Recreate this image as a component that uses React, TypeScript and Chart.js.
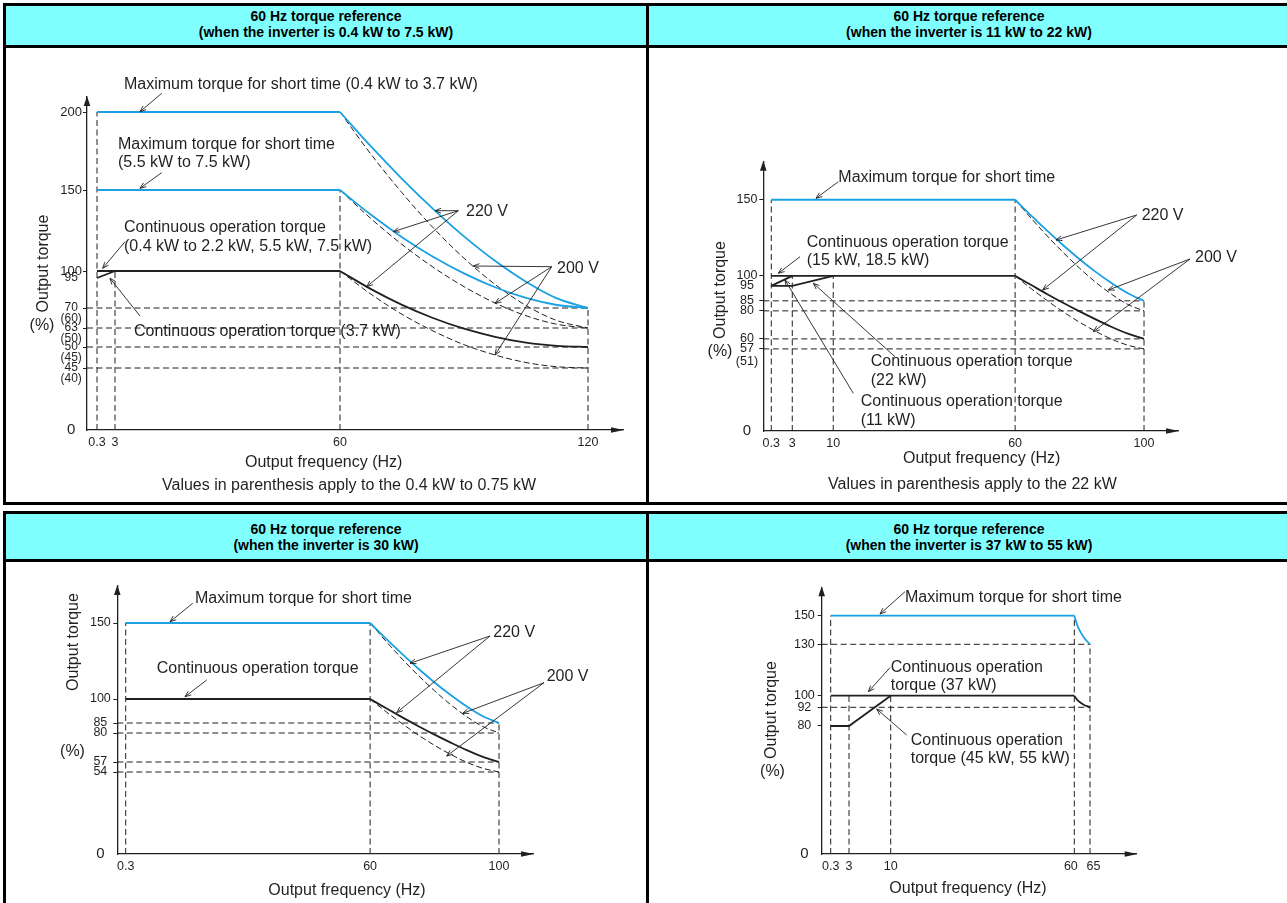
import React, { useEffect, useRef } from 'react';
import { Chart, LineController, LineElement, PointElement, LinearScale } from 'chart.js';

Chart.register(LineController, LineElement, PointElement, LinearScale);

const FONT = '"Liberation Sans", Arial, Helvetica, sans-serif';
const INK = '#231F20';
const BLUE = '#1AA1E3';
const HEADER_BG = '#80FFFF';

// ================= DATA =================
// ---- Panel 1: 0.4 kW to 7.5 kW ----
const p1XTicks = [0.3, 3, 60, 120];
const p1XTickLabels = ['0.3', '3', '60', '120'];
const p1YTicks = [0, 45, 50, 63, 70, 95, 100, 150, 200];
const p1YTickLabels = ['0', '45\n(40)', '50\n(45)', '63\n(50)', '70\n(60)', '95', '100', '150', '200'];
const p1FlatFreq = [0.3, 60];
const p1MaxShort37Flat = [200, 200];
const p1MaxShort75Flat = [150, 150];
const p1ContFlat = [100, 100];
const p1Cont37Freq = [0.3, 3];
const p1Cont37 = [95, 100];
const p1CurveFreq = [60, 67.5, 75, 82.5, 90, 97.5, 105, 112.5, 120];
const p1MaxShort37_220 = [200, 177.9, 157.2, 138.4, 121.4, 106.3, 91.9, 78, 70];
const p1MaxShort75_220 = [150, 134.7, 120.9, 108.8, 98.3, 87.3, 78.4, 72.5, 70];
const p1Cont_220 = [100, 85.7, 72.6, 66.5, 62.5, 57, 53, 50.8, 50];
const p1MaxShort37_200 = [200, 172.9, 148.3, 126.8, 107.9, 89.7, 72.1, 65.6, 63];
const p1MaxShort75_200 = [150, 132.3, 116.4, 102.4, 87.8, 74.2, 67.3, 64.3, 63];
const p1Cont_200 = [100, 81.5, 67.8, 61, 51.6, 48.1, 46.3, 45.3, 45];
const p1VGuideFreq = [0.3, 3, 60, 120];
const p1VGuideTop = [200, 100, 150, 70];
const p1HGuideTorque = [70, 63, 50, 45];
const p1HGuideEnd = 120;

// ---- Panel 2: 11 kW to 22 kW ----
const p2XTicks = [0.3, 3, 10, 60, 100];
const p2XTickLabels = ['0.3', '3', '10', '60', '100'];
const p2YTicks = [0, 57, 60, 80, 85, 95, 100, 150];
const p2YTickLabels = ['0', '57\n(51)', '60', '80', '85', '95', '100', '150'];
const p2FlatFreq = [0.3, 60];
const p2MaxShortFlat = [150, 150];
const p2ContFlat = [100, 100];
const p2Cont11Freq = [0.3, 3];
const p2Cont11 = [95, 100];
const p2Cont22Freq = [0.3, 3, 10];
const p2Cont22 = [95, 95, 100];
const p2CurveFreq = [60, 65, 70, 75, 80, 85, 90, 95, 100];
const p2MaxShort_220 = [150, 139.5, 129.5, 119.9, 110.9, 102.6, 96.3, 90.1, 85];
const p2MaxShort_200 = [150, 137.8, 126.1, 115.2, 105, 96.8, 89.3, 83.2, 80];
const p2Cont_220 = [100, 95.4, 89.4, 83.9, 79.6, 73.9, 68.5, 63.7, 60];
const p2Cont_200 = [100, 93.1, 85.1, 79.2, 71.9, 65.4, 59.9, 58.1, 57];
const p2VGuideFreq = [0.3, 3, 10, 60, 100];
const p2VGuideTop = [150, 100, 100, 150, 85];
const p2HGuideTorque = [85, 80, 60, 57];
const p2HGuideEnd = 100;

// ---- Panel 3: 30 kW ----
const p3XTicks = [0.3, 60, 100];
const p3XTickLabels = ['0.3', '60', '100'];
const p3YTicks = [0, 54, 57, 80, 85, 100, 150];
const p3YTickLabels = ['0', '54', '57', '80', '85', '100', '150'];
const p3FlatFreq = [0.3, 60];
const p3MaxShortFlat = [150, 150];
const p3ContFlat = [100, 100];
const p3CurveFreq = [60, 65, 70, 75, 80, 85, 90, 95, 100];
const p3MaxShort_220 = [150, 139.5, 129.5, 119.9, 110.9, 102.6, 95.3, 89.2, 85];
const p3MaxShort_200 = [150, 137.8, 126.2, 115.4, 105.4, 96.5, 88.9, 83.2, 80];
const p3Cont_220 = [100, 94.2, 88.5, 83.4, 78.7, 72.4, 66.4, 61.1, 57];
const p3Cont_200 = [100, 92, 84.6, 78.3, 70.2, 63, 56.9, 55.1, 54];
const p3VGuideFreq = [0.3, 60, 100];
const p3VGuideTop = [150, 150, 85];
const p3HGuideTorque = [85, 80, 57, 54];
const p3HGuideEnd = 100;

// ---- Panel 4: 37 kW to 55 kW ----
const p4XTicks = [0.3, 3, 10, 60, 65];
const p4XTickLabels = ['0.3', '3', '10', '60  ', '  65'];
const p4YTicks = [0, 80, 92, 100, 130, 150];
const p4YTickLabels = ['0', '80', '92', '100', '130', '150'];
const p4FlatFreq = [0.3, 60];
const p4MaxShortFlat = [150, 150];
const p4Cont37Flat = [100, 100];
const p4CurveFreq = [60, 61, 62, 63, 64, 65];
const p4MaxShort = [150, 143, 138.5, 135, 132.3, 130];
const p4Cont37 = [100, 97, 95.2, 93.8, 92.8, 92];
const p4Cont45Freq = [0.3, 3, 10];
const p4Cont45 = [80, 80, 100];
const p4VGuideFreq = [0.3, 3, 10, 60, 65];
const p4VGuideTop = [150, 100, 100, 150, 130];
const p4HGuideTorque = [130, 92];
const p4HGuideEnd = 65;

// ================= SCALE =================
type Pt = [number, number];

function interp(b: Pt[], v: number, from: number): number {
  const to = 1 - from;
  const n = b.length;
  let i = 0;
  while (i < n - 2 && v > b[i + 1][from]) i++;
  const a = b[i];
  const c = b[i + 1];
  const t = (v - a[from]) / (c[from] - a[from]);
  return a[to] + t * (c[to] - a[to]);
}

class PiecewiseScale extends LinearScale {
  static id = 'piecewise';
  static defaults = {};
  getPixelForValue(value: number) {
    const b: Pt[] = (this.options as any).breaks;
    const uMax = b[b.length - 1][1];
    const f = interp(b, value, 0) / uMax;
    return this.isHorizontal() ? this.left + f * this.width : this.bottom - f * this.height;
  }
  getValueForPixel(pixel: number) {
    const b: Pt[] = (this.options as any).breaks;
    const uMax = b[b.length - 1][1];
    const f = this.isHorizontal() ? (pixel - this.left) / this.width : (this.bottom - pixel) / this.height;
    return interp(b, f * uMax, 1);
  }
}
Chart.register(PiecewiseScale as any);

// ================= HELPERS =================
const xy = (xs: number[], ys: number[]) => xs.map((x, i) => ({ x, y: ys[i] }));
const solid = (xs: number[], ys: number[], color: string, curve = false) => ({
  data: xy(xs, ys), borderColor: color, borderWidth: 1.8, pointRadius: 0, clip: false,
  cubicInterpolationMode: curve ? 'monotone' : 'default', tension: 0, order: 0,
});
const dashedCurve = (xs: number[], ys: number[]) => ({
  data: xy(xs, ys), borderColor: INK, borderWidth: 1, borderDash: [6, 3], pointRadius: 0, clip: false,
  cubicInterpolationMode: 'monotone', order: 1,
});
const guide = (xs: number[], ys: number[]) => ({
  data: xy(xs, ys), borderColor: INK, borderWidth: 1, borderDash: [6, 3.5], pointRadius: 0, clip: false,
  tension: 0, order: 2,
});
const vGuides = (xs: number[], tops: number[]) => xs.map((x, i) => guide([x, x], [0, tops[i]]));
const hGuides = (ys: number[], end: number) => ys.map((y) => guide([0, end], [y, y]));

type Note = { t: string; at: Pt; rot?: boolean; center?: boolean };
type Arrow = { from: Pt; to: Pt[] };
interface PanelSpec {
  frame: { left: number; top: number; width: number; height: number; origin: Pt; xEnd: number; yTop: number };
  xBreaks: Pt[];
  yBreaks: Pt[];
  xTicks: number[];
  xLabels: string[];
  yTicks: number[];
  yLabels: string[];
  yFont: (v: number) => number;
  yLine: number;
  yPad: number;
  datasets: any[];
  notes: Note[];
  arrows: Arrow[];
}

// ================= PANELS =================
const panel1: PanelSpec = {
  frame: { left: 6, top: 48, width: 640, height: 454, origin: [87, 430], xEnd: 623, yTop: 97 },
  xBreaks: [[0, 0], [0.3, 10], [3, 28], [60, 253], [120, 501], [128.5, 536]],
  yBreaks: [[0, 0], [45, 62], [50, 83], [63, 102], [70, 122], [95, 152], [100, 159], [150, 240], [200, 318], [210, 333]],
  xTicks: p1XTicks,
  xLabels: p1XTickLabels,
  yTicks: p1YTicks,
  yLabels: p1YTickLabels,
  yFont: (v) => (v === 0 ? 15 : v >= 100 ? 13 : 12),
  yLine: 0.9,
  yPad: 1,
  datasets: [
    solid(p1FlatFreq, p1MaxShort37Flat, BLUE),
    solid(p1CurveFreq, p1MaxShort37_220, BLUE, true),
    solid(p1FlatFreq, p1MaxShort75Flat, BLUE),
    solid(p1CurveFreq, p1MaxShort75_220, BLUE, true),
    solid(p1FlatFreq, p1ContFlat, INK),
    solid(p1Cont37Freq, p1Cont37, INK),
    solid(p1CurveFreq, p1Cont_220, INK, true),
    dashedCurve(p1CurveFreq, p1MaxShort37_200),
    dashedCurve(p1CurveFreq, p1MaxShort75_200),
    dashedCurve(p1CurveFreq, p1Cont_200),
    ...vGuides(p1VGuideFreq, p1VGuideTop),
    ...hGuides(p1HGuideTorque, p1HGuideEnd),
  ],
  notes: [
    { t: 'Maximum torque for short time (0.4 kW to 3.7 kW)', at: [37, -341] },
    { t: 'Maximum torque for short time', at: [31, -281] },
    { t: '(5.5 kW to 7.5 kW)', at: [31, -263] },
    { t: 'Continuous operation torque', at: [37, -198] },
    { t: '(0.4 kW to 2.2 kW, 5.5 kW, 7.5 kW)', at: [37, -179] },
    { t: 'Continuous operation torque (3.7 kW)', at: [47, -94] },
    { t: '220 V', at: [379, -214] },
    { t: '200 V', at: [470, -157] },
    { t: 'Output frequency (Hz)', at: [158, 37] },
    { t: 'Values in parenthesis apply to the 0.4 kW to 0.75 kW', at: [75, 60] },
    { t: 'Output torque', at: [-43, -166.5], rot: true },
    { t: '(%)', at: [-45, -104.5], center: true },
  ],
  arrows: [
    { from: [74.7, -336.7], to: [[53, -318.3]] },
    { from: [74.7, -257.3], to: [[53, -241.7]] },
    { from: [38, -188.3], to: [[15.7, -161.7]] },
    { from: [53, -114], to: [[23, -151.7]] },
    { from: [371.3, -219.3], to: [[348, -219.3], [306.3, -198.3], [279.7, -143.3]] },
    { from: [464.7, -163.3], to: [[386.3, -164], [408, -126.7], [408, -75]] },
  ],
};

const panel2: PanelSpec = {
  frame: { left: 649, top: 48, width: 638, height: 454, origin: [763.3, 431], xEnd: 1178, yTop: 161.7 },
  xBreaks: [[0, 0], [0.3, 8], [3, 29], [10, 70], [60, 252], [100, 381], [110.5, 415]],
  yBreaks: [[0, 0], [57, 82], [60, 92], [80, 120], [85, 130], [95, 145], [100, 155], [150, 231], [175, 269]],
  xTicks: p2XTicks,
  xLabels: p2XTickLabels,
  yTicks: p2YTicks,
  yLabels: p2YTickLabels,
  yFont: (v) => (v === 0 ? 15 : 12.5),
  yLine: 1,
  yPad: 1.2,
  datasets: [
    solid(p2FlatFreq, p2MaxShortFlat, BLUE),
    solid(p2CurveFreq, p2MaxShort_220, BLUE, true),
    solid(p2FlatFreq, p2ContFlat, INK),
    solid(p2Cont11Freq, p2Cont11, INK),
    solid(p2Cont22Freq, p2Cont22, INK),
    solid(p2CurveFreq, p2Cont_220, INK, true),
    dashedCurve(p2CurveFreq, p2MaxShort_200),
    dashedCurve(p2CurveFreq, p2Cont_200),
    ...vGuides(p2VGuideFreq, p2VGuideTop),
    ...hGuides(p2HGuideTorque, p2HGuideEnd),
  ],
  notes: [
    { t: 'Maximum torque for short time', at: [75, -249.3] },
    { t: 'Continuous operation torque', at: [43.4, -184] },
    { t: '(15 kW, 18.5 kW)', at: [43.4, -166] },
    { t: 'Continuous operation torque', at: [107.4, -65] },
    { t: '(22 kW)', at: [107.4, -46] },
    { t: 'Continuous operation torque', at: [97.4, -25] },
    { t: '(11 kW)', at: [97.4, -6] },
    { t: '220 V', at: [378.4, -211] },
    { t: '200 V', at: [431.7, -169] },
    { t: 'Output frequency (Hz)', at: [139.7, 32] },
    { t: 'Values in parenthesis apply to the 22 kW', at: [64.7, 58] },
    { t: 'Output torque', at: [-42.8, -141], rot: true },
    { t: '(%)', at: [-43.3, -79.5], center: true },
  ],
  arrows: [
    { from: [75, -249.3], to: [[52.7, -232.7]] },
    { from: [36.7, -174.3], to: [[15, -157.7]] },
    { from: [131.7, -74.3], to: [[50, -147.7]] },
    { from: [90, -37.7], to: [[21.7, -151]] },
    { from: [373.4, -216], to: [[292.7, -191], [279.4, -141]] },
    { from: [426.7, -172], to: [[345, -141], [330, -99.3]] },
  ],
};

const panel3: PanelSpec = {
  frame: { left: 6, top: 562, width: 640, height: 341, origin: [117.3, 854], xEnd: 533, yTop: 586 },
  xBreaks: [[0, 0], [0.3, 8.4], [60, 253], [100, 382], [110.5, 416]],
  yBreaks: [[0, 0], [54, 82], [57, 92], [80, 121], [85, 131], [100, 155], [150, 231], [175, 268]],
  xTicks: p3XTicks,
  xLabels: p3XTickLabels,
  yTicks: p3YTicks,
  yLabels: p3YTickLabels,
  yFont: (v) => (v === 0 ? 15 : 12.5),
  yLine: 1,
  yPad: 2.5,
  datasets: [
    solid(p3FlatFreq, p3MaxShortFlat, BLUE),
    solid(p3CurveFreq, p3MaxShort_220, BLUE, true),
    solid(p3FlatFreq, p3ContFlat, INK),
    solid(p3CurveFreq, p3Cont_220, INK, true),
    dashedCurve(p3CurveFreq, p3MaxShort_200),
    dashedCurve(p3CurveFreq, p3Cont_200),
    ...vGuides(p3VGuideFreq, p3VGuideTop),
    ...hGuides(p3HGuideTorque, p3HGuideEnd),
  ],
  notes: [
    { t: 'Maximum torque for short time', at: [77.7, -251.3] },
    { t: 'Continuous operation torque', at: [39.4, -181.3] },
    { t: '220 V', at: [376, -216.7] },
    { t: '200 V', at: [429.4, -173.3] },
    { t: 'Output frequency (Hz)', at: [151, 41] },
    { t: 'Output torque', at: [-43.8, -212], rot: true },
    { t: '(%)', at: [-44.8, -102.5], center: true },
  ],
  arrows: [
    { from: [75.4, -250.7], to: [[52.7, -232.3]] },
    { from: [89.4, -174], to: [[67.7, -157.3]] },
    { from: [372.7, -218], to: [[292.7, -190.7], [279.4, -141.3]] },
    { from: [426.7, -171.3], to: [[345.4, -140.7], [329.4, -98]] },
  ],
};

const panel4: PanelSpec = {
  frame: { left: 649, top: 562, width: 638, height: 341, origin: [821.7, 854], xEnd: 1136.7, yTop: 587.3 },
  xBreaks: [[0, 0], [0.3, 9], [3, 27.3], [10, 69], [60, 252.6], [65, 268.3], [80, 315]],
  yBreaks: [[0, 0], [80, 128], [92, 146.7], [100, 158.3], [130, 209.7], [150, 238.3], [170, 266.7]],
  xTicks: p4XTicks,
  xLabels: p4XTickLabels,
  yTicks: p4YTicks,
  yLabels: p4YTickLabels,
  yFont: (v) => (v === 0 ? 15 : 12.5),
  yLine: 1,
  yPad: 2.9,
  datasets: [
    solid(p4FlatFreq, p4MaxShortFlat, BLUE),
    solid(p4CurveFreq, p4MaxShort, BLUE, true),
    solid(p4FlatFreq, p4Cont37Flat, INK),
    solid(p4CurveFreq, p4Cont37, INK, true),
    solid(p4Cont45Freq, p4Cont45, INK),
    ...vGuides(p4VGuideFreq, p4VGuideTop),
    ...hGuides(p4HGuideTorque, p4HGuideEnd),
  ],
  notes: [
    { t: 'Maximum torque for short time', at: [83.3, -252.3] },
    { t: 'Continuous operation', at: [69, -182.3] },
    { t: 'torque (37 kW)', at: [69, -164] },
    { t: 'Continuous operation', at: [89, -109] },
    { t: 'torque (45 kW, 55 kW)', at: [89, -90.7] },
    { t: 'Output frequency (Hz)', at: [67.6, 38.7] },
    { t: 'Output torque', at: [-49.7, -144], rot: true },
    { t: '(%)', at: [-49.2, -82.5], center: true },
  ],
  arrows: [
    { from: [83.3, -262.3], to: [[58.3, -240]] },
    { from: [68.3, -186.3], to: [[46.6, -162.3]] },
    { from: [85, -119], to: [[55, -145]] },
  ],
};

// ================= DRAWING =================
function drawArrow(ctx: CanvasRenderingContext2D, x1: number, y1: number, x2: number, y2: number) {
  ctx.beginPath();
  ctx.moveTo(x1, y1);
  ctx.lineTo(x2, y2);
  ctx.stroke();
  const ang = Math.atan2(y2 - y1, x2 - x1);
  const L = 6.5;
  ctx.beginPath();
  ctx.moveTo(x2 - L * Math.cos(ang - 0.38), y2 - L * Math.sin(ang - 0.38));
  ctx.lineTo(x2, y2);
  ctx.lineTo(x2 - L * Math.cos(ang + 0.38), y2 - L * Math.sin(ang + 0.38));
  ctx.stroke();
}

function notesPlugin(p: PanelSpec) {
  return {
    id: 'panelNotes',
    afterDraw(chart: any) {
      const ctx: CanvasRenderingContext2D = chart.ctx;
      const a = chart.chartArea;
      const X = (d: number) => a.left + d;
      const Y = (d: number) => a.bottom + d;
      ctx.save();
      ctx.fillStyle = INK;
      // axis arrowheads
      ctx.beginPath();
      ctx.moveTo(a.left, a.top - 1);
      ctx.lineTo(a.left - 3.3, a.top + 9);
      ctx.lineTo(a.left + 3.3, a.top + 9);
      ctx.closePath();
      ctx.fill();
      ctx.beginPath();
      ctx.moveTo(a.right + 1, a.bottom);
      ctx.lineTo(a.right - 12, a.bottom - 2.8);
      ctx.lineTo(a.right - 12, a.bottom + 2.8);
      ctx.closePath();
      ctx.fill();
      // callout arrows
      ctx.strokeStyle = INK;
      ctx.lineWidth = 0.9;
      for (const ar of p.arrows) {
        for (const to of ar.to) drawArrow(ctx, X(ar.from[0]), Y(ar.from[1]), X(to[0]), Y(to[1]));
      }
      // texts
      ctx.font = `16px ${FONT}`;
      for (const n of p.notes) {
        const x = X(n.at[0]);
        const y = Y(n.at[1]);
        if (n.rot) {
          ctx.save();
          ctx.translate(x, y);
          ctx.rotate(-Math.PI / 2);
          ctx.textAlign = 'center';
          ctx.textBaseline = 'middle';
          ctx.fillText(n.t, 0, 0);
          ctx.restore();
        } else if (n.center) {
          ctx.textAlign = 'center';
          ctx.textBaseline = 'middle';
          ctx.fillText(n.t, x, y);
        } else {
          ctx.textAlign = 'left';
          ctx.textBaseline = 'alphabetic';
          ctx.fillText(n.t, x, y);
        }
      }
      ctx.restore();
    },
  };
}

const Y_AXIS_W = 40;
const X_AXIS_H = 26;

function buildConfig(p: PanelSpec): any {
  const f = p.frame;
  const padding = {
    left: f.origin[0] - f.left - Y_AXIS_W,
    top: f.yTop - f.top,
    right: f.left + f.width - f.xEnd,
    bottom: f.top + f.height - f.origin[1] - X_AXIS_H,
  };
  const xb = p.xBreaks;
  const yb = p.yBreaks;
  return {
    type: 'line',
    data: { datasets: p.datasets },
    options: {
      animation: false,
      responsive: false,
      events: [],
      layout: { padding },
      plugins: { legend: { display: false }, tooltip: { enabled: false } },
      scales: {
        x: {
          type: 'piecewise',
          position: 'bottom',
          breaks: xb,
          min: xb[0][0],
          max: xb[xb.length - 1][0],
          afterFit: (s: any) => { s.height = X_AXIS_H; },
          afterBuildTicks: (s: any) => { s.ticks = p.xTicks.map((v) => ({ value: v })); },
          grid: { display: true, drawOnChartArea: false, drawTicks: false },
          border: { display: true, color: INK, width: 1.3 },
          ticks: {
            autoSkip: false, maxRotation: 0, minRotation: 0, padding: 5, color: INK,
            font: { family: FONT, size: 12.5 },
            callback: (_v: number, i: number) => p.xLabels[i],
          },
        },
        y: {
          type: 'piecewise',
          position: 'left',
          breaks: yb,
          min: yb[0][0],
          max: yb[yb.length - 1][0],
          afterFit: (s: any) => { s.width = Y_AXIS_W; },
          afterBuildTicks: (s: any) => { s.ticks = p.yTicks.map((v) => ({ value: v })); },
          grid: {
            display: true, drawOnChartArea: false, drawTicks: true, tickLength: 4, lineWidth: 1,
            color: (ctx: any) => (ctx.tick && (ctx.tick.value === 0 || ctx.tick.value === 95) ? 'rgba(0,0,0,0)' : INK),
          },
          border: { display: true, color: INK, width: 1.3 },
          ticks: {
            autoSkip: false, crossAlign: 'center', padding: p.yPad, color: INK,
            font: (ctx: any) => ({ family: FONT, size: p.yFont(ctx.tick ? ctx.tick.value : 1), lineHeight: p.yLine }),
            callback: (_v: number, i: number) => {
              const s = p.yLabels[i];
              return s.includes('\n') ? ['', ...s.split('\n')] : s;
            },
          },
        },
      },
    },
    plugins: [notesPlugin(p)],
  };
}

function Panel({ spec }: { spec: PanelSpec }) {
  const ref = useRef<HTMLCanvasElement>(null);
  useEffect(() => {
    const chart = new Chart(ref.current as HTMLCanvasElement, buildConfig(spec));
    return () => chart.destroy();
  }, [spec]);
  const f = spec.frame;
  return (
    <canvas
      ref={ref}
      width={f.width}
      height={f.height}
      style={{ position: 'absolute', left: f.left, top: f.top, width: f.width, height: f.height }}
    />
  );
}

const box = (left: number, top: number, width: number, height: number, bg: string): React.CSSProperties => ({
  position: 'absolute', left, top, width, height, background: bg,
});

function Header({ left, top, width, height, line2, lift = 0 }: { left: number; top: number; width: number; height: number; line2: string; lift?: number }) {
  return (
    <div
      style={{
        ...box(left, top, width, height - lift, HEADER_BG),
        paddingBottom: lift,
        display: 'flex', flexDirection: 'column', justifyContent: 'center', alignItems: 'center',
        fontFamily: FONT, fontWeight: 'bold', fontSize: 14, lineHeight: '16px', color: '#000',
      }}
    >
      <div>60 Hz torque reference</div>
      <div>{line2}</div>
    </div>
  );
}

export default function App() {
  return (
    <div style={{ position: 'absolute', left: 0, top: 0, width: 1287, height: 903, overflow: 'hidden', background: '#fff' }}>
      {/* table 1 */}
      <Header left={6} top={6} width={640} height={39} lift={4} line2="(when the inverter is 0.4 kW to 7.5 kW)" />
      <Header left={649} top={6} width={640} height={39} lift={4} line2="(when the inverter is 11 kW to 22 kW)" />
      <div style={box(3, 3, 1300, 3, '#000')} />
      <div style={box(3, 45, 1300, 3, '#000')} />
      <div style={box(3, 502, 1300, 3, '#000')} />
      <div style={box(3, 3, 3, 502, '#000')} />
      <div style={box(646, 3, 3, 502, '#000')} />
      {/* table 2 */}
      <Header left={6} top={514} width={640} height={45} line2="(when the inverter is 30 kW)" />
      <Header left={649} top={514} width={640} height={45} line2="(when the inverter is 37 kW to 55 kW)" />
      <div style={box(3, 511, 1300, 3, '#000')} />
      <div style={box(3, 559, 1300, 3, '#000')} />
      <div style={box(3, 511, 3, 400, '#000')} />
      <div style={box(646, 511, 3, 400, '#000')} />
      <Panel spec={panel1} />
      <Panel spec={panel2} />
      <Panel spec={panel3} />
      <Panel spec={panel4} />
    </div>
  );
}
